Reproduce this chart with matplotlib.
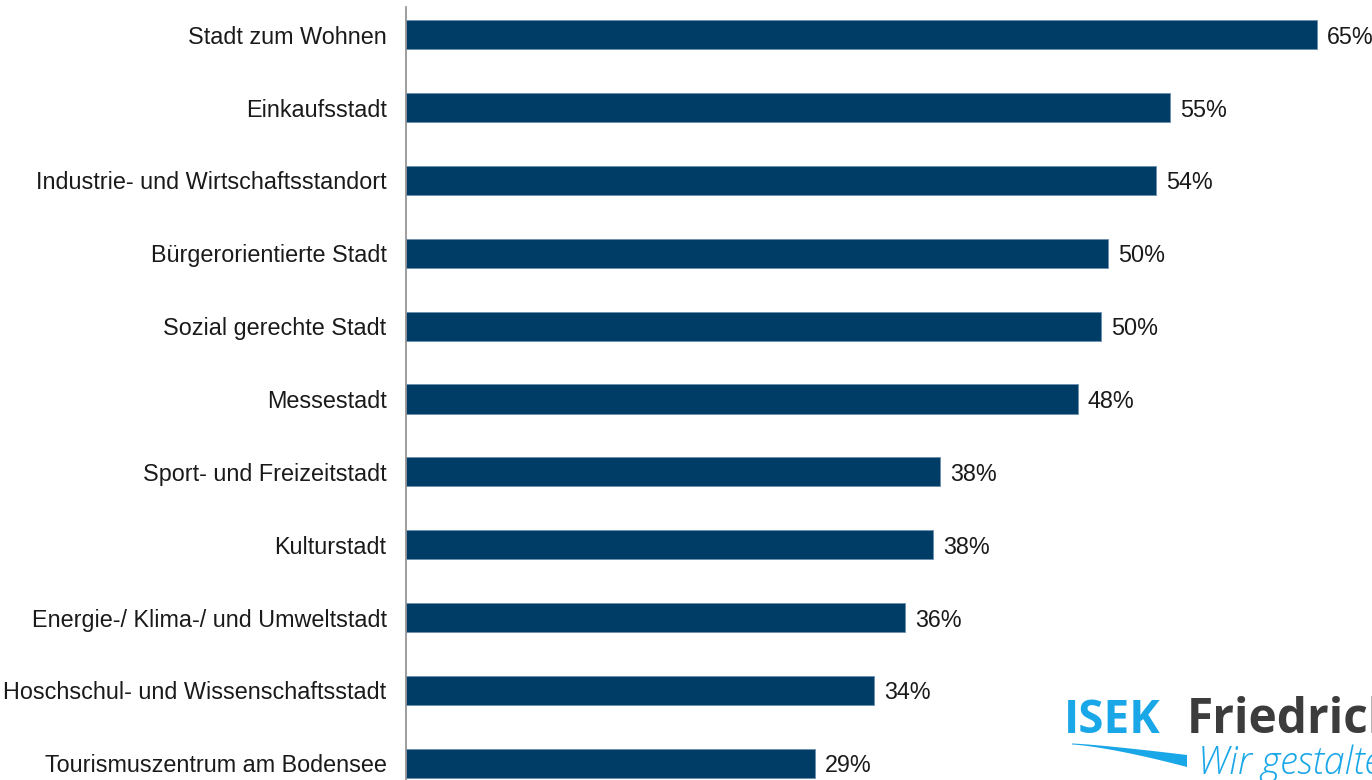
import numpy as np
import matplotlib as mpl
mpl.use('Agg')
from matplotlib import pyplot as plt

# Kategorien und Werte (von oben nach unten)
categories = [
    'Stadt zum Wohnen',
    'Einkaufsstadt',
    'Industrie- und Wirtschaftsstandort',
    'Bürgerorientierte Stadt',
    'Sozial gerechte Stadt',
    'Messestadt',
    'Sport- und Freizeitstadt',
    'Kulturstadt',
    'Energie-/ Klima-/ und Umweltstadt',
    'Hoschschul- und Wissenschaftsstadt',
    'Tourismuszentrum am Bodensee',
]
values = [65.0, 54.5, 53.5, 50.1, 49.6, 47.9, 38.1, 37.6, 35.6, 33.4, 29.2]
value_labels = ['65%', '55%', '54%', '50%', '50%', '48%', '38%', '38%', '36%', '34%', '29%']

bar_color = '#003d66'
plt.rcParams['font.family'] = ['Liberation Sans', 'DejaVu Sans']

fig = plt.figure(figsize=(13.72, 7.8), dpi=100)
ax = fig.add_axes([406 / 1372, 0.0, 1 - 406 / 1372, 1 - 7 / 780])

y = np.arange(len(categories))
ax.barh(y, values, height=0.4, color=bar_color, edgecolor='#6a8fae', linewidth=0.6)
ax.set_yticks(y)
ax.set_yticklabels(categories, fontsize=16.8, color='#1a1a1a')
ax.tick_params(axis='y', length=0, pad=14)
ax.set_xticks([])
ax.set_xlim(0, 68.9)
ax.set_ylim(len(categories) - 1 + 0.23, -0.38)

for s in ['top', 'right', 'bottom']:
    ax.spines[s].set_visible(False)
ax.spines['left'].set_color('#8c8c8c')
ax.spines['left'].set_linewidth(1.2)

for yi, v, lab in zip(y, values, value_labels):
    ax.text(v + 0.7, yi, lab, va='center_baseline', ha='left', fontsize=16.8, color='#1a1a1a')

# Logo unten rechts (angeschnitten wie im Original)
blue = '#1aa7e8'
fig.text(1064 / 1372, 1 - 733 / 780, 'ISEK', fontsize=33, fontweight='bold',
         color=blue, family=['Open Sans', 'DejaVu Sans'])
fig.text(1187 / 1372, 1 - 733 / 780, 'Friedrichshafen', fontsize=34.5, fontweight='bold',
         color='#3c3c3c', family=['Open Sans', 'DejaVu Sans'])
fig.text(1198 / 1372, 1 - 774 / 780, 'Wir gestalten', fontsize=27, style='italic',
         fontweight='light', color=blue, family=['Open Sans', 'DejaVu Sans'])

# Schwung unter dem Logo
t = np.linspace(0, 1, 60)
xs = 1072 + t * (1187 - 1072)
yc = 744 + 17 * t ** 1.3
th = 1 + 11 * t ** 1.5
top = 1 - (yc - th / 2) / 780
bot = 1 - (yc + th / 2) / 780
fig.patches.append(plt.Polygon(
    np.column_stack([np.r_[xs, xs[::-1]] / 1372, np.r_[top, bot[::-1]]]),
    closed=True, transform=fig.transFigure, color=blue, lw=0))

fig.savefig('out.png', dpi=100, facecolor='white')
